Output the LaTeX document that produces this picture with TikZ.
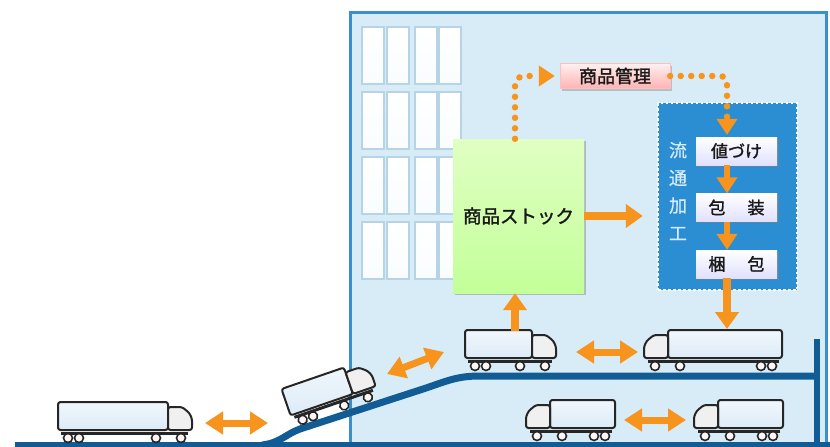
\documentclass[tikz,border=0pt]{standalone}
\usepackage{fontspec}
\newfontfamily\jp{Noto Sans CJK JP}[FakeBold=1.6]
\newfontfamily\jpv{Noto Sans CJK JP}[FakeBold=0.8]
\usetikzlibrary{arrows.meta,shadows,calc}

\definecolor{bldfill}{HTML}{D8ECF7}
\definecolor{bldline}{HTML}{3A90CC}
\definecolor{floorblue}{HTML}{115C94}
\definecolor{procblue}{HTML}{2C8ED2}
\definecolor{flow}{HTML}{F7941E}
\definecolor{cargo}{HTML}{DCEBF7}
\definecolor{cabgray}{HTML}{F0F0F0}
\definecolor{winline}{HTML}{B7D3E6}
\definecolor{vtext}{HTML}{D5ECFA}

\tikzset{
  truckline/.style={draw=black!85, line width=2pt},
  wheel/.style={draw=black!85, line width=1.6pt, fill=white!85!pink},
  window/.style={draw=winline, line width=1.4pt, top color=white, bottom color=white!85!bldfill},
  floorline/.style={draw=floorblue, line width=7pt},
  stockbox/.style={minimum width=131pt, minimum height=154pt, inner sep=0pt,
    top color=green!10!white!85!lime, bottom color=green!45!lime!40!white,
    drop shadow={shadow xshift=2pt, shadow yshift=-2pt, opacity=0.45},
    font=\jp\fontsize{18.5}{20}\selectfont, text=black!90},
  mgmtbox/.style={minimum width=110pt, minimum height=25pt, inner sep=0pt,
    top color=red!6!white, bottom color=red!30!white, draw=red!25!white,
    drop shadow={shadow xshift=2pt, shadow yshift=-2pt, opacity=0.4},
    font=\jp\fontsize{18}{20}\selectfont, text=black!90},
  procbox/.style={minimum width=139pt, minimum height=187pt, inner sep=0pt, fill=procblue,
    postaction={draw=white, line width=1.6pt, dash pattern=on 2.5pt off 2.5pt}},
  stepbox/.style={minimum width=81pt, minimum height=28pt, inner sep=0pt,
    top color=white, bottom color=blue!12!white,
    drop shadow={shadow xshift=1.5pt, shadow yshift=-1.5pt, opacity=0.5},
    font=\jp\fontsize{17}{19}\selectfont, text=black!90},
  vlabel/.style={align=center, inner sep=0pt, text=vtext, font=\jpv\fontsize{18}{27.7}\selectfont},
  fat/.style={draw=flow, line width=8pt, -{Triangle[width=23pt,length=17pt]}},
  fatsmall/.style={draw=flow, line width=6pt, -{Triangle[width=20pt,length=16pt]}},
  fatboth/.style={draw=flow, line width=7pt, {Triangle[width=22pt,length=18pt]}-{Triangle[width=22pt,length=18pt]}},
  dotflow/.style={draw=flow, line width=6.5pt, line cap=round, dash pattern=on 0pt off 10.5pt,
    -{Triangle[width=20pt,length=16pt]}},
}

% lorry: #1,#2 = bottom of the cargo/cab joint, #3 = cargo length,
% #4 = 1 (facing right) or -1 (facing left), #5 = tilt angle
\newcommand\lorry[5]{%
  \begin{scope}[shift={(#1,#2)}, rotate=#5, xscale=#4]
    \draw[line width=3pt, black!85] (-#3+3,3) -- (20,3);
    \draw[truckline, top color=white!60!cargo, bottom color=cargo, rounded corners=2.5pt] (-#3,0) rectangle (0,-28);
    \draw[truckline, fill=cabgray, rounded corners=2.5pt]
      (0,0) -- (0,-23) -- (14,-23) [rounded corners=6pt] -- (24,-15)
      [rounded corners=2.5pt] -- (24,0) -- cycle;
    \foreach \w in {-#3+10, -#3+21, -12, 13} \draw[wheel] (\w,8) circle (4.5);
  \end{scope}}

\begin{document}
\begin{tikzpicture}[x=1pt, y=-1pt]
\useasboundingbox (0,0) rectangle (830,447);

% warehouse building
\fill[bldfill] (350,12) rectangle (826,447);
\draw[draw=bldline, line width=3pt] (350,450) -- (350,12) -- (826,12) -- (826,450);

% windows
\foreach \wx in {362,387,415,439}
  \foreach \wy in {27,92,157,222}
    \draw[window] (\wx,\wy) rectangle ++(22,57);

% ground, ramp, upper floor and end wall
\draw[floorline, line width=6pt] (15,445) -- (830,445);
\draw[floorline] (262,445) .. controls (280,443) and (286,434) .. (300,429)
  -- (420,390) .. controls (445,382) and (455,376) .. (480,376) -- (817,376);
\draw[floorline, line width=6pt] (817,339) -- (817,447);

% nodes
\node[stockbox] (stock) at (518.5,216) {商品ストック};
\node[mgmtbox] (mgmt) at (615,76) {商品管理};
\node[procbox] (proc) at (727.5,196.5) {};
\node[vlabel] (vl) at (678,191) {流\\通\\加\\工};
\node[stepbox] (nd) at (736.5,151) {値づけ};
\node[stepbox] (hs) at (736.5,207.5) {包\hspace{22pt}装};
\node[stepbox] (kp) at (736.5,264) {梱\hspace{22pt}包};

% lorries
\lorry{168}{430}{110}{1}{0}
\lorry{353}{394}{66}{1}{19}
\lorry{532}{358}{67}{1}{0}
\lorry{668}{358}{114}{-1}{0}
\lorry{550}{428}{65}{-1}{0}
\lorry{718}{428}{65}{-1}{0}

% arrow end points at the lorries
\coordinate (aL1) at (205,423);  \coordinate (aR1) at (268,423);
\coordinate (aL2) at (387,374);  \coordinate (aR2) at (444,352);
\coordinate (aL3) at (576,352);  \coordinate (aR3) at (638,352);
\coordinate (aL4) at (624,420);  \coordinate (aR4) at (686,420);
\coordinate (t3top) at (515,331);
\coordinate (t4top) at (727,329);

% information flow (dotted)
\draw[dotflow, rounded corners=9pt, shorten >=5pt] ([xshift=-3.5pt]stock.north) |- (mgmt.west);
\draw[dotflow, rounded corners=7pt, shorten >=2pt] (mgmt.east) -| ([xshift=-9.5pt]nd.north);

% goods flow
\draw[fat, shorten >=15pt] (stock.east) -- (stock.east -| proc.west);
\draw[fatsmall] ([xshift=-9.5pt]nd.south) -- ([xshift=-9.5pt]hs.north);
\draw[fatsmall] ([xshift=-9.5pt]hs.south) -- ([xshift=-9.5pt]kp.south |- kp.north);
\draw[fat] ([xshift=-9.5pt]kp.south) -- (t4top);
\draw[fat] (t3top) -- ([xshift=-3.5pt]stock.south);

\draw[fatboth] (aL1) -- (aR1);
\draw[fatboth] (aL2) -- (aR2);
\draw[fatboth] (aL3) -- (aR3);
\draw[fatboth] (aL4) -- (aR4);
\end{tikzpicture}
\end{document}
